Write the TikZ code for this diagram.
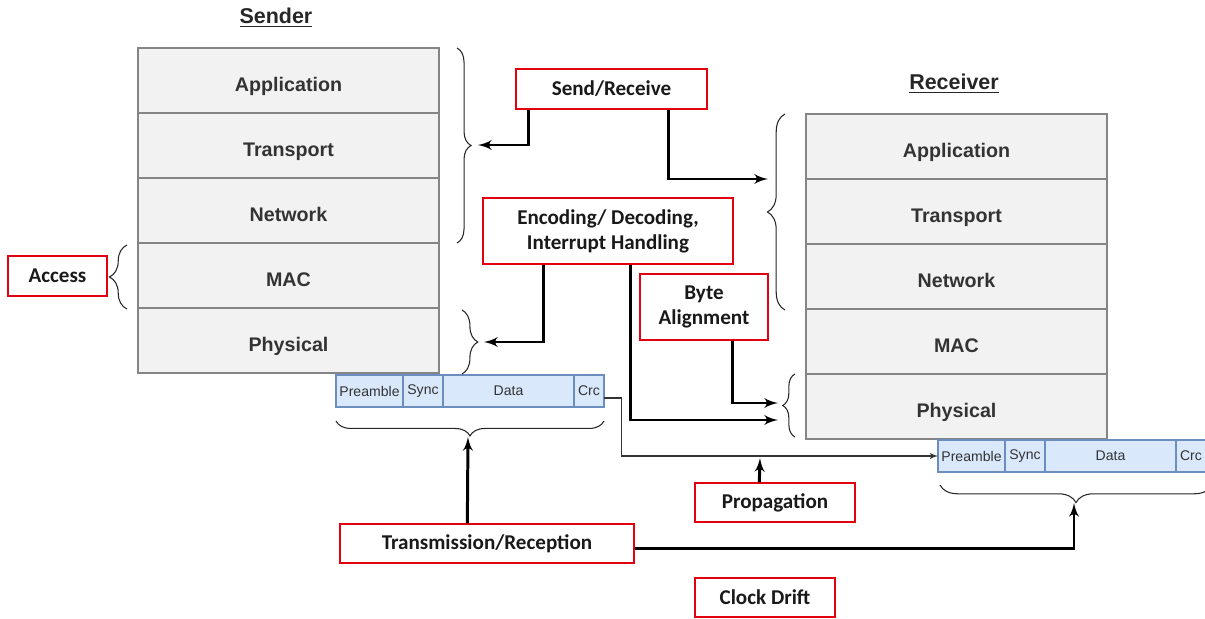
\documentclass[tikz,border=0pt]{standalone}
\usepackage{fontspec}
\newfontfamily\arialfont{Liberation Sans}
\newfontfamily\calibrifont{Carlito}
\usetikzlibrary{arrows,positioning,calc,decorations.pathreplacing}
\definecolor{layerfill}{HTML}{F2F2F2}
\definecolor{layerdraw}{HTML}{858585}
\definecolor{layertext}{HTML}{333333}
\definecolor{pktfill}{HTML}{DAE8FC}
\definecolor{pktdraw}{HTML}{6C8EBF}
\definecolor{boxred}{HTML}{E3000F}
\tikzset{
arc/.style={->,>=latex',line width=1.7pt},
stacklayer/.style={draw=layerdraw,fill=layerfill,line width=0.85pt,minimum width=6.02cm,minimum height=1.3cm,text height=13pt,text depth=1pt,font=\arialfont\bfseries\fontsize{11.2}{13}\selectfont,text=layertext},
pkt/.style={draw=pktdraw,fill=pktfill,line width=0.8pt,minimum height=0.64cm,inner sep=0pt,outer sep=0pt,font=\arialfont\fontsize{8}{9.6}\selectfont,text=layertext},
task/.style={draw=boxred,fill=white,line width=0.8pt,align=center,font=\calibrifont\bfseries\fontsize{12}{14.2}\selectfont,text=black!90},
brc/.style={decorate,decoration={brace,amplitude=#1},line width=0.6pt,black!85},
title/.style={font=\arialfont\bfseries\fontsize{12.2}{14}\selectfont,text=black!85}
}

\begin{document}
\begin{tikzpicture}[x=0.02cm,y=-0.02cm]
	\useasboundingbox (0,0) rectangle (1205,619);
	% titles
	\node[title] (sendtitle) at (276,18) {\underline{Sender}};
	\node[title] (recvtitle) at (954,84) {\underline{Receiver}};

	% protocol stacks
	\foreach \name [count=\i] in {Application,Transport,Network,MAC,Physical}{
		\node[stacklayer] (s\i) at (288.5,{80.5+65*(\i-1)}) {\name};
		\node[stacklayer] (r\i) at (956.5,{146.5+65*(\i-1)}) {\name};
	}

	% packets
	\node[pkt,minimum width=1.34cm] (spre) at (369.5,391) {Preamble};
	\node[pkt,minimum width=0.8cm,right=0pt of spre] (ssync) {Sync};
	\node[pkt,minimum width=2.62cm,right=0pt of ssync] (sdata) {Data};
	\node[pkt,minimum width=0.6cm,right=0pt of sdata] (scrc) {Crc};
	\node[pkt,minimum width=1.34cm] (rpre) at (971.5,456) {Preamble};
	\node[pkt,minimum width=0.8cm,right=0pt of rpre] (rsync) {Sync};
	\node[pkt,minimum width=2.62cm,right=0pt of rsync] (rdata) {Data};
	\node[pkt,minimum width=0.6cm,right=0pt of rdata] (rcrc) {Crc};

	% braces
	\draw[brc=8pt] (457,48) -- (457,243);
	\draw[brc=10pt] (127,309) -- (127,245);
	\draw[brc=9pt] (462,310) -- (462,374);
	\draw[brc=8.5pt] (604,421) -- (336,421);
	\draw[brc=10pt] (785,310) -- (785,114);
	\draw[brc=7pt] (795,437) -- (795,374);
	\draw[brc=10pt] (1212,485) -- (940,485);

	% arrow ends
	\coordinate (stop) at (478,145);
	\coordinate (rtop) at (768,179);
	\coordinate (sphy) at (484,342);
	\coordinate (rphya) at (778,403);
	\coordinate (rphyb) at (778,420);
	\coordinate (spkt) at (468,437);
	\coordinate (rpkt) at (1074,503);
	\coordinate (link) at (760,458);

	% functions
	\node[task,minimum width=1.98cm,minimum height=0.8cm] (access) at (57.5,276) {Access};
	\node[task,minimum width=3.82cm,minimum height=0.8cm] (sr) at (611.5,89) {Send/Receive};
	\node[task,minimum width=5cm,minimum height=1.32cm] (enc) at (608,231) {Encoding/ Decoding,\\Interrupt Handling};
	\node[task,minimum width=2.56cm,minimum height=1.32cm] (byte) at (704,307) {Byte\\Alignment};
	\node[task,minimum width=3.2cm,minimum height=0.78cm] (prop) at (775,502.5) {Propagation};
	\node[task,minimum width=5.88cm,minimum height=0.78cm] (tr) at (487,543.5) {Transmission/Reception};
	\node[task,minimum width=2.8cm,minimum height=0.78cm] (clock) at (765,597.5) {Clock Drift};

	% link between packets
	\draw[->,>=latex',line width=0.6pt,black!80] ($(scrc.east)+(0,7)$) -- ++(18,0) |- (rpre.west);

	% arrows
	\draw[arc] ($(sr.south west)+(13,0)$) |- (stop);
	\draw[arc] ($(sr.south west)+(153,0)$) |- (rtop);
	\draw[arc] ($(enc.south west)+(61,0)$) |- (sphy);
	\draw[arc] ($(enc.south west)+(148,0)$) |- (rphyb);
	\draw[arc] ($(byte.south west)+(93,0)$) |- (rphya);
	\draw[arc] ($(tr.north west)+(128,0)$) -- (spkt);
	\draw[arc] ($(tr.east)+(0,5)$) -| (rpkt);
	\draw[arc] ($(prop.north west)+(65,0)$) -- (link);
\end{tikzpicture}
\end{document}
